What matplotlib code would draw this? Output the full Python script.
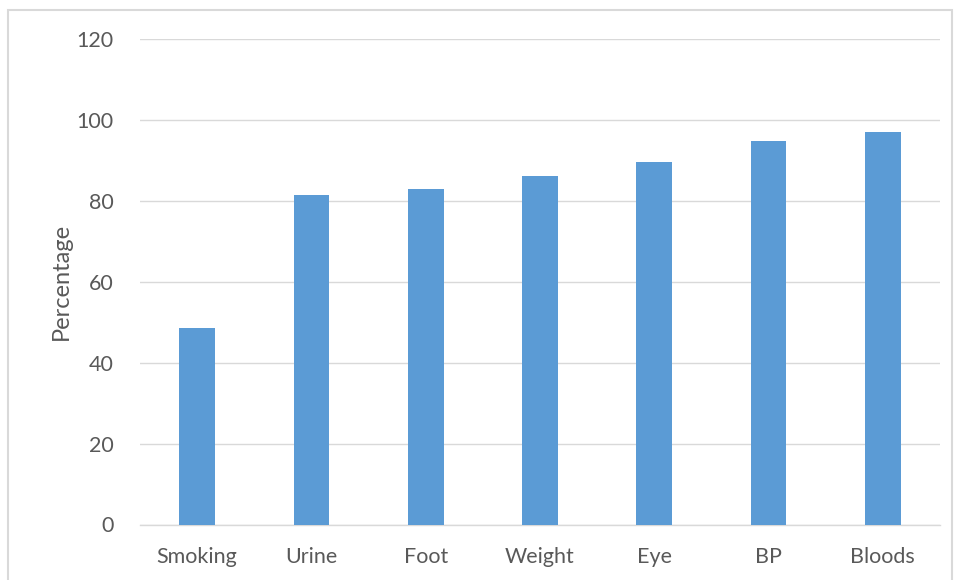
import matplotlib
matplotlib.use('Agg')
from matplotlib import pyplot as plt
from matplotlib.patches import Rectangle

categories = ['Smoking', 'Urine', 'Foot', 'Weight', 'Eye', 'BP', 'Bloods']
percentages = [48.5, 81.4, 83.0, 86.2, 89.7, 94.7, 96.9]
yticks = [0, 20, 40, 60, 80, 100, 120]

plt.rcParams['font.family'] = ['Lato', 'DejaVu Sans']
text_grey = '#595959'

fig = plt.figure(figsize=(9.57, 5.8), dpi=100)
ax = fig.add_axes([140/957, 55.5/580, 800/957, 485.5/580])

# light chart-area border
fig.patches.append(Rectangle((8/957, -0.05), 944/957, 0.05 + 570/580,
                             transform=fig.transFigure, fill=False,
                             edgecolor='#D9D9D9', linewidth=1.5))

x = range(len(categories))
ax.bar(x, percentages, width=0.313, color='#5B9BD5', zorder=3)

ax.set_xlim(-0.5, len(categories) - 0.5)
ax.set_ylim(0, 120)
ax.set_yticks(yticks)
ax.set_xticks(list(x))
ax.set_xticklabels(categories)
ax.grid(axis='y', color='#D9D9D9', linewidth=1, zorder=0)

for s in ['top', 'right', 'left']:
    ax.spines[s].set_visible(False)
ax.spines['bottom'].set_color('#D9D9D9')
ax.spines['bottom'].set_linewidth(1)

ax.tick_params(axis='both', length=0, labelsize=15.5, colors=text_grey)
ax.tick_params(axis='y', pad=19)
ax.tick_params(axis='x', pad=16)
ax.set_ylabel('Percentage', fontsize=17, color=text_grey, labelpad=3.5)

plt.savefig('out.png', dpi=100)
